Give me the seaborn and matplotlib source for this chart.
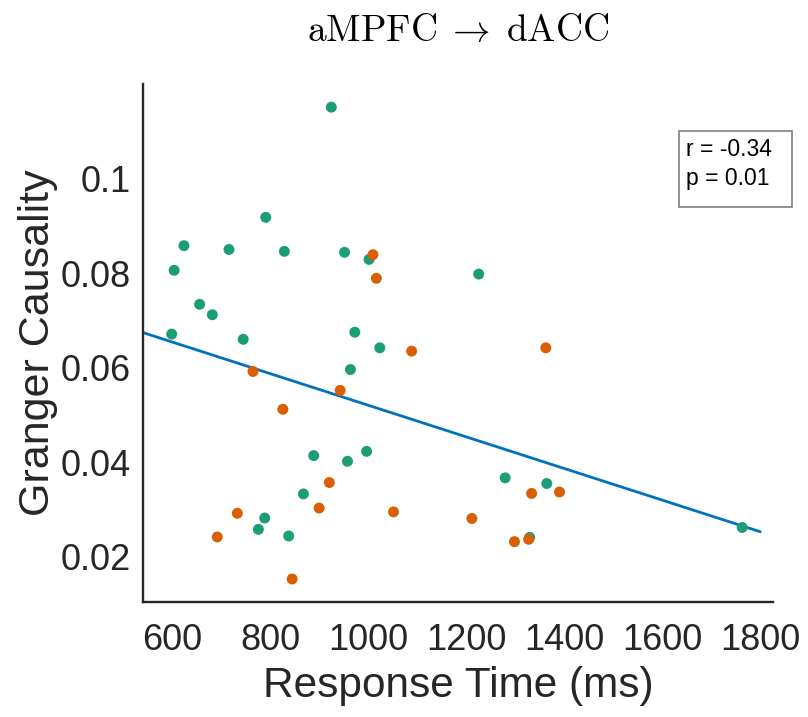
import numpy as np
import pandas as pd
import matplotlib
matplotlib.use("Agg")
import matplotlib.pyplot as plt
import matplotlib.patches as mpatches
import seaborn as sns

# Green group (response time ms, Granger causality)
green_rt = [924, 790, 623, 715, 828, 951, 1001, 603, 1225, 655, 681, 598, 744, 972,
            1023, 963, 888, 996, 957, 867, 788, 775, 837, 1279, 1364, 1329, 1763]
green_gc = [0.1151, 0.0918, 0.0858, 0.0850, 0.0846, 0.0844, 0.0829, 0.0806, 0.0798,
            0.0734, 0.0712, 0.0671, 0.0660, 0.0675, 0.0642, 0.0596, 0.0414, 0.0423,
            0.0402, 0.0333, 0.0282, 0.0258, 0.0244, 0.0367, 0.0355, 0.0241, 0.0262]

# Orange group
orange_rt = [1009, 1016, 1088, 1362, 764, 942, 825, 920, 899, 732, 1051, 691, 844,
             1211, 1333, 1390, 1298, 1327]
orange_gc = [0.0839, 0.0789, 0.0635, 0.0642, 0.0592, 0.0552, 0.0512, 0.0357, 0.0303,
             0.0292, 0.0295, 0.0242, 0.0153, 0.0281, 0.0334, 0.0337, 0.0232, 0.0237]

# Regression line endpoints
fit_rt = [540, 1800]
fit_gc = [0.0674, 0.0253]

x_ticks = [600, 800, 1000, 1200, 1400, 1600, 1800]
y_ticks = [0.02, 0.04, 0.06, 0.08, 0.1]
y_ticklabels = ["0.02", "0.04", "0.06", "0.08", "0.1"]

title = r"$\mathrm{aMPFC}\;\rightarrow\;\mathrm{dACC}$"
xlabel = "Response Time (ms)"
ylabel = "Granger Causality"
stats_lines = ["r = -0.34", "p = 0.01"]

sns.set_theme(style="white")
plt.rcParams["font.family"] = ["Liberation Sans", "DejaVu Sans"]
plt.rcParams["mathtext.fontset"] = "cm"

df = pd.DataFrame({
    "rt": green_rt + orange_rt,
    "gc": green_gc + orange_gc,
    "group": ["green"] * len(green_rt) + ["orange"] * len(orange_rt),
})

W, H = 808, 717
dark = "#262626"
fig = plt.figure(figsize=(W / 100, H / 100), dpi=100)
ax = fig.add_axes([143.3 / W, 1 - 601.7 / H, (773 - 143.3) / W, (601.7 - 84) / H])

sns.lineplot(x=fit_rt, y=fit_gc, ax=ax, color="#0072BD", linewidth=2, zorder=1)
sns.scatterplot(data=df, x="rt", y="gc", hue="group",
                palette={"green": "#1b9e77", "orange": "#d95f02"},
                s=62, linewidth=0, legend=False, ax=ax, zorder=2)

ax.set_xlim(540, 1826)
ax.set_ylim(0.0105, 0.12)
ax.set_xticks(x_ticks)
ax.set_xticklabels([str(v) for v in x_ticks])
ax.set_yticks(y_ticks)
ax.set_yticklabels(y_ticklabels)

for side in ["top", "right"]:
    ax.spines[side].set_visible(False)
for side in ["left", "bottom"]:
    ax.spines[side].set_color(dark)
    ax.spines[side].set_linewidth(1.7)

ax.tick_params(axis="both", direction="in", length=7, width=1.7, color=dark,
               labelcolor=dark, labelsize=26)
ax.tick_params(axis="x", pad=15)
ax.tick_params(axis="y", pad=9)

ax.set_xlabel(xlabel, fontsize=30.5, color=dark, labelpad=6)
ax.set_ylabel(ylabel, fontsize=31, color=dark, labelpad=2)

fig.text(458 / W, 1 - 41 / H, title, fontsize=27, color="black",
         ha="center", va="baseline")

# stats annotation box
fig.patches.append(mpatches.Rectangle((679 / W, 1 - 207 / H), (792 - 679) / W, (207 - 131) / H,
                                      transform=fig.transFigure, facecolor="white",
                                      edgecolor="#7f7f7f", linewidth=1.2, zorder=3))
fig.text(686 / W, 1 - 150 / H, stats_lines[0], fontsize=16.5, color="black",
         ha="left", va="center", zorder=4)
fig.text(686 / W, 1 - 179 / H, stats_lines[1], fontsize=16.5, color="black",
         ha="left", va="center", zorder=4)

fig.savefig("out.png", dpi=100)
